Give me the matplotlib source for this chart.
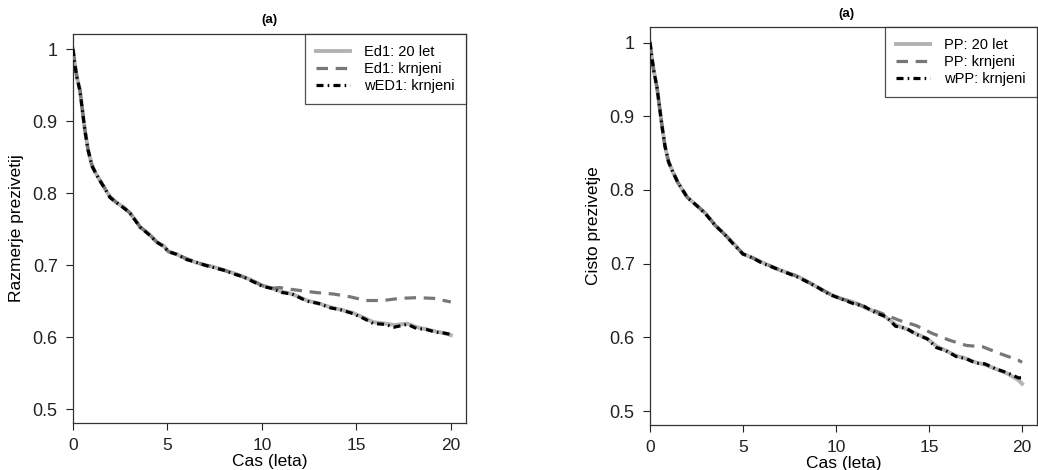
import matplotlib.pyplot as plt

plt.rcParams['font.family'] = ['Liberation Sans', 'DejaVu Sans']

# Left panel: Ed1
ed1_full_t = [0, 0.1, 0.2, 0.37, 0.5, 0.63, 0.8, 1.0, 1.2, 1.43, 1.7, 1.96, 2.3, 2.66, 3.0, 3.3,
              3.55, 4.0, 4.44, 4.8, 5.05, 5.5, 6.0, 6.4, 7.0, 7.4, 8.0, 8.5, 9.0, 9.4, 10.0, 10.5,
              11.1, 11.6, 12.4, 13.0, 13.6, 14.2, 14.8, 15.4, 15.9, 16.5, 17.0, 17.7, 18.2, 18.7,
              19.2, 19.6, 20.0]
ed1_full_s = [1.0, 0.98, 0.962, 0.943, 0.915, 0.888, 0.86, 0.839, 0.828, 0.818, 0.806, 0.795,
              0.787, 0.781, 0.773, 0.763, 0.753, 0.744, 0.732, 0.727, 0.719, 0.715, 0.709, 0.705,
              0.700, 0.698, 0.693, 0.689, 0.684, 0.680, 0.672, 0.668, 0.663, 0.660, 0.651, 0.647,
              0.642, 0.638, 0.634, 0.627, 0.621, 0.619, 0.617, 0.619, 0.614, 0.611, 0.608, 0.606,
              0.603]

ed1_trunc_t = [0, 0.1, 0.2, 0.37, 0.5, 0.63, 0.8, 1.0, 1.2, 1.43, 1.7, 1.96, 2.3, 2.66, 3.0, 3.3,
               3.55, 4.0, 4.44, 4.8, 5.05, 5.5, 6.0, 6.4, 7.0, 7.4, 8.0, 8.5, 9.0, 9.4, 10.0, 10.5,
               10.95, 11.4, 12.0, 12.9, 13.8, 14.7, 15.5, 16.4, 17.3, 18.2, 19.1, 20.0]
ed1_trunc_s = [1.0, 0.98, 0.962, 0.943, 0.915, 0.888, 0.86, 0.839, 0.828, 0.818, 0.806, 0.795,
               0.787, 0.781, 0.773, 0.763, 0.753, 0.744, 0.732, 0.727, 0.719, 0.715, 0.709, 0.705,
               0.700, 0.698, 0.693, 0.689, 0.684, 0.680, 0.672, 0.668, 0.669, 0.667, 0.665, 0.662,
               0.660, 0.656, 0.651, 0.651, 0.654, 0.655, 0.654, 0.649]

wed1_t = [0, 0.1, 0.2, 0.37, 0.5, 0.63, 0.8, 1.0, 1.2, 1.43, 1.7, 1.96, 2.3, 2.66, 3.0, 3.3,
          3.55, 4.0, 4.44, 4.8, 5.05, 5.5, 6.0, 6.4, 7.0, 7.4, 8.0, 8.5, 9.0, 9.4, 10.0, 10.5,
          11.1, 11.6, 12.4, 13.0, 13.6, 14.2, 14.8, 15.4, 15.9, 16.5, 17.0, 17.7, 18.2, 18.7,
          19.2, 19.6, 20.0]
wed1_s = [1.0, 0.978, 0.962, 0.942, 0.915, 0.887, 0.86, 0.838, 0.828, 0.817, 0.806, 0.794,
          0.787, 0.780, 0.773, 0.762, 0.753, 0.743, 0.732, 0.726, 0.719, 0.715, 0.708, 0.705,
          0.700, 0.697, 0.693, 0.688, 0.684, 0.679, 0.671, 0.668, 0.662, 0.660, 0.650, 0.647,
          0.641, 0.638, 0.633, 0.626, 0.619, 0.618, 0.614, 0.618, 0.612, 0.611, 0.607, 0.606,
          0.604]

# Right panel: PP
pp_full_t = [0, 0.1, 0.2, 0.37, 0.5, 0.63, 0.8, 1.0, 1.2, 1.5, 2.0, 2.5, 3.0, 3.5, 4.0, 4.5, 5.0,
             5.5, 6.0, 7.0, 8.0, 9.0, 9.65, 10.3, 10.9, 11.5, 12.15, 12.7, 13.2, 13.8, 14.3,
             14.9, 15.4, 15.9, 16.45, 17.0, 17.5, 18.0, 18.6, 19.2, 19.8, 20.0]
pp_full_s = [1.0, 0.98, 0.962, 0.94, 0.915, 0.89, 0.86, 0.838, 0.826, 0.81, 0.79, 0.779, 0.768,
             0.752, 0.74, 0.727, 0.713, 0.708, 0.702, 0.691, 0.682, 0.668, 0.659, 0.652, 0.648,
             0.641, 0.634, 0.627, 0.617, 0.611, 0.605, 0.598, 0.588, 0.582, 0.575, 0.571, 0.566,
             0.563, 0.557, 0.551, 0.542, 0.537]

pp_trunc_t = [0, 0.1, 0.2, 0.37, 0.5, 0.63, 0.8, 1.0, 1.2, 1.5, 2.0, 2.5, 3.0, 3.5, 4.0, 4.5, 5.0,
              5.5, 6.0, 7.0, 8.0, 9.0, 9.65, 10.3, 10.9, 11.6, 12.5, 13.4, 14.3, 15.2, 16.1,
              17.0, 17.9, 18.8, 19.8, 20.0]
pp_trunc_s = [1.0, 0.98, 0.962, 0.94, 0.915, 0.89, 0.86, 0.838, 0.826, 0.81, 0.79, 0.779, 0.768,
              0.752, 0.74, 0.727, 0.713, 0.708, 0.702, 0.691, 0.682, 0.668, 0.659, 0.652, 0.648,
              0.641, 0.632, 0.623, 0.616, 0.605, 0.596, 0.589, 0.587, 0.578, 0.569, 0.566]

wpp_t = [0, 0.1, 0.2, 0.37, 0.5, 0.63, 0.8, 1.0, 1.2, 1.5, 2.0, 2.5, 3.0, 3.5, 4.0, 4.5, 5.0,
         5.5, 6.0, 7.0, 8.0, 9.0, 9.65, 10.3, 10.9, 11.5, 12.15, 12.7, 13.2, 13.8, 14.3,
         14.9, 15.4, 15.9, 16.45, 17.0, 17.5, 18.0, 18.6, 19.2, 19.8, 20.0]
wpp_s = [1.0, 0.979, 0.962, 0.94, 0.915, 0.889, 0.86, 0.838, 0.826, 0.81, 0.79, 0.779, 0.767,
         0.752, 0.74, 0.726, 0.713, 0.708, 0.701, 0.691, 0.681, 0.668, 0.658, 0.652, 0.646,
         0.642, 0.633, 0.628, 0.615, 0.612, 0.604, 0.598, 0.586, 0.582, 0.574, 0.571, 0.565,
         0.564, 0.557, 0.552, 0.545, 0.545]

panels = [
    ([0.0703, 0.100, 0.3786, 0.8277], "Razmerje prezivetij",
     [(ed1_full_t, ed1_full_s, "Ed1: 20 let"),
      (ed1_trunc_t, ed1_trunc_s, "Ed1: krnjeni"),
      (wed1_t, wed1_s, "wED1: krnjeni")],
     (0.260, 0.958)),
    ([0.6262, 0.0957, 0.3728, 0.8468], "Cisto prezivetje",
     [(pp_full_t, pp_full_s, "PP: 20 let"),
      (pp_trunc_t, pp_trunc_s, "PP: krnjeni"),
      (wpp_t, wpp_s, "wPP: krnjeni")],
     (0.815, 0.970)),
]

fig = plt.figure(figsize=(10.38, 4.70), dpi=100)

for rect, ylab, series, title_pos in panels:
    ax = fig.add_axes(rect)
    (t1, s1, l1), (t2, s2, l2), (t3, s3, l3) = series
    ax.plot(t1, s1, color='#b3b3b3', lw=2.8, label=l1, zorder=2)
    ax.plot(t2, s2, color='#777777', lw=2.3, dashes=(3.6, 2.4), label=l2, zorder=3)
    ax.plot(t3, s3, color='black', lw=2.3, dashes=(2.2, 1.3, 0.5, 1.3), label=l3, zorder=4)

    ax.set_xlim(0, 20.8)
    ax.set_ylim(0.481, 1.021)
    ax.set_xticks([0, 5, 10, 15, 20])
    ax.set_xticklabels(['0', '5', '10', '15', '20'])
    ax.set_yticks([0.5, 0.6, 0.7, 0.8, 0.9, 1.0])
    ax.set_yticklabels(['0.5', '0.6', '0.7', '0.8', '0.9', '1'])
    ax.tick_params(direction='out', length=5, width=0.8, colors='#222222')
    ax.tick_params(axis='x', labelsize=12.5, pad=6)
    ax.tick_params(axis='y', labelsize=13, pad=6)
    for sp in ax.spines.values():
        sp.set_color('#333333')
        sp.set_linewidth(0.9)

    ax.set_xlabel("Cas (leta)", fontsize=12.5, labelpad=0.5)
    ax.set_ylabel(ylab, fontsize=12.5, labelpad=6)

    leg = ax.legend(loc='upper right', fontsize=10.5, frameon=True, fancybox=False,
                    borderaxespad=0, handlelength=2.3, borderpad=0.75,
                    labelspacing=0.22, handletextpad=1.0)
    leg.get_frame().set_edgecolor('#222222')
    leg.get_frame().set_linewidth(0.9)

    fig.text(title_pos[0], title_pos[1], "(a)", fontsize=9.5, fontweight='bold',
             ha='center', va='center')

plt.savefig("out.png", dpi=100)
